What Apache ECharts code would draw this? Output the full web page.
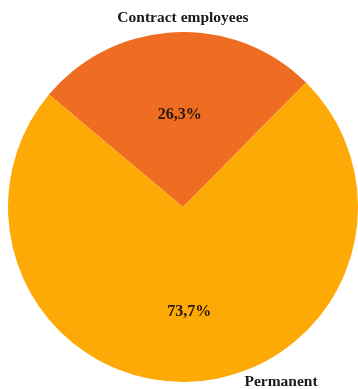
<!DOCTYPE html>
<html>
<head>
<meta charset="utf-8">
<script src="https://cdn.jsdelivr.net/npm/echarts@6/dist/echarts.min.js"></script>
<style>
  html, body { margin: 0; padding: 0; background: #fff; }
  #chart { width: 358px; height: 389px; }
</style>
</head>
<body>
<div id="chart"></div>
<script>
var categories = ['Contract employees', 'Permanent'];
var shares = [26.3, 73.7];
var colors = ['#EF6D23', '#FDAA07'];

var myChart = echarts.init(document.getElementById('chart'));

var pieData = categories.map(function (name, i) {
	return { name: name, value: shares[i], itemStyle: { color: colors[i] } };
});

// where the name labels sit (outside the pie)
var namePos = [[183, 18], [281, 382]];
// small nudges for the percent labels
var pctShift = [[1, -2], [2, 14]];

var option = {
	animation: false,
	series: [
		{
			type: 'pie',
			center: [183, 207],
			radius: 175,
			startAngle: 140,
			clockwise: true,
			silent: true,
			label: {
				show: true,
				position: 'inside',
				color: '#2a1608',
				fontFamily: 'Liberation Serif',
				fontWeight: 'bold',
				fontSize: 16,
				formatter: function (p) {
					return p.value.toFixed(1).replace('.', ',') + '%';
				}
			},
			labelLine: { show: false },
			labelLayout: function (p) {
				return { dx: pctShift[p.dataIndex][0], dy: pctShift[p.dataIndex][1] };
			},
			data: pieData
		},
		{
			// transparent copy, only for the category names
			type: 'pie',
			center: [183, 207],
			radius: 175,
			startAngle: 140,
			silent: true,
			itemStyle: { color: 'transparent' },
			label: {
				show: true,
				position: 'outside',
				color: '#1a1a1a',
				fontFamily: 'Liberation Serif',
				fontWeight: 'bold',
				fontSize: 15.5,
				overflow: 'none',
				formatter: '{b}'
			},
			labelLine: { show: false },
			labelLayout: function (p) {
				return {
					x: namePos[p.dataIndex][0],
					y: namePos[p.dataIndex][1],
					align: 'center',
					verticalAlign: 'middle'
				};
			},
			data: categories.map(function (name, i) { return { name: name, value: shares[i] }; })
		}
	]
};

myChart.setOption(option);
window.addEventListener('resize', function () {
	myChart.resize();
});
</script>
</body>
</html>
